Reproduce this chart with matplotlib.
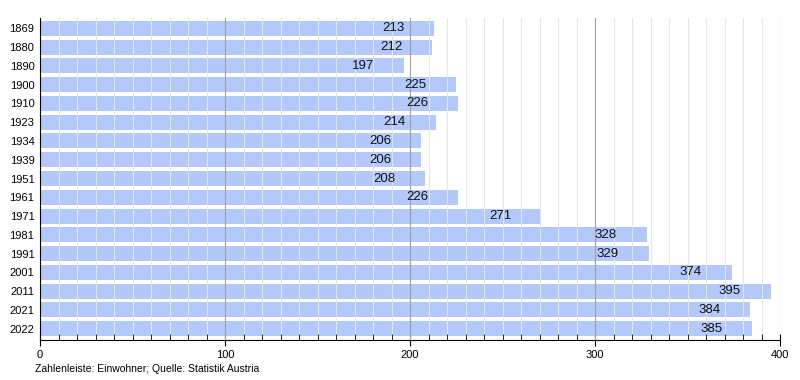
import matplotlib
matplotlib.use("Agg")
import matplotlib.pyplot as plt
import numpy as np

plt.rcParams['font.family'] = ['Liberation Sans', 'DejaVu Sans']

years = ["1869", "1880", "1890", "1900", "1910", "1923", "1934", "1939", "1951",
         "1961", "1971", "1981", "1991", "2001", "2011", "2021", "2022"]
population = [213, 212, 197, 225, 226, 214, 206, 206, 208,
              226, 271, 328, 329, 374, 395, 384, 385]

bar_color = "#b3c8fb"

fig = plt.figure(figsize=(8, 3.8), dpi=100)
ax = fig.add_axes([0.05, 0.105, 0.925, 0.848])

ypos = np.arange(len(years))
ax.barh(ypos, population, height=0.8, color=bar_color, zorder=2)

# value labels, right-aligned a bit inside the bar end
for y, v in zip(ypos, population):
    ax.annotate(str(v), xy=(v, y), xytext=(-21.5, 0), textcoords="offset points",
                ha="right", va="center", fontsize=9.5, color="#111111", zorder=4)

ax.set_xlim(0, 400)
ax.set_ylim(16.61, -0.56)
ax.set_yticks(ypos)
ax.set_yticklabels(years, fontsize=8)
ax.tick_params(axis="y", length=0, pad=4)

ax.set_xticks([0, 100, 200, 300, 400])
ax.set_xticks(np.arange(0, 401, 10), minor=True)
ax.tick_params(axis="x", which="major", direction="inout", length=8, labelsize=8, pad=3)
ax.tick_params(axis="x", which="minor", direction="in", length=4)

ax.grid(axis="x", which="minor", color="#e6e6e6", linewidth=0.8, zorder=1)
ax.set_axisbelow(False)
for xv in [100, 200, 300, 400]:
    ax.axvline(xv, color="#a0a0a0", linewidth=0.8, zorder=3)

for s in ["top", "right"]:
    ax.spines[s].set_visible(False)
ax.spines["left"].set_zorder(5)
ax.spines["bottom"].set_zorder(5)

fig.text(0.044, 0.028, "Zahlenleiste: Einwohner; Quelle: Statistik Austria",
         fontsize=7.5, ha="left", va="center")

fig.savefig("out.png", dpi=100)
